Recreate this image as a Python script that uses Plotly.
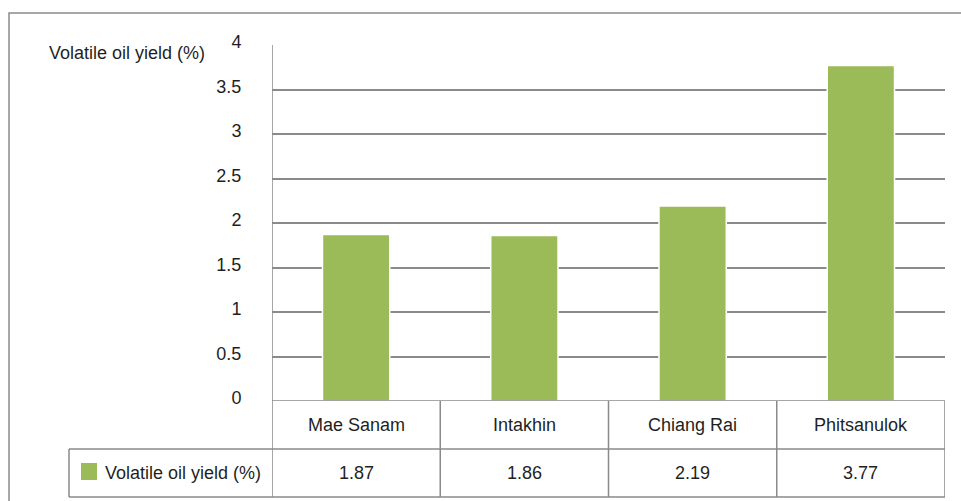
import plotly.graph_objects as go

# ---- data ----
categories = ["Mae Sanam", "Intakhin", "Chiang Rai", "Phitsanulok"]
values = [1.87, 1.86, 2.19, 3.77]
series_name = "Volatile oil yield (%)"
y_tick_vals = [0, 0.5, 1, 1.5, 2, 2.5, 3, 3.5, 4]
y_tick_text = ["0", "0.5", "1", "1.5", "2", "2.5", "3", "3.5", "4"]
axis_title = "Volatile oil yield (%)"

# ---- style ----
W, H = 961, 501
L, R, T, B = 272, 16, 45, 100
PW, PH = W - L - R, H - T - B
GREEN = "#9BBB59"
GRID = "#8a8a8a"
TXT = "#1f1f1f"
FONT = "Liberation Sans, Arial, sans-serif"
FS = 18


def px_x(px):
    return (px - L) / PW


def px_y(py):
    return (H - B - py) / PH


fig = go.Figure()
fig.add_trace(go.Bar(
    x=list(range(len(categories))), y=values, name=series_name,
    marker=dict(color=GREEN, line=dict(color="white", width=1.5)),
    showlegend=False, hoverinfo="skip",
))

n = len(categories)
row1_bot = px_y(449)
row2_bot = px_y(497)
row_mid1 = (0 + row1_bot) / 2
row_mid2 = (row1_bot + row2_bot) / 2

shapes = []
line = dict(color=GRID, width=1.5)
# outer chart border
shapes.append(dict(type="rect", xref="paper", yref="paper",
                   x0=px_x(9), x1=px_x(1000), y0=px_y(540), y1=px_y(13),
                   line=line, layer="below"))
# axis line at zero
shapes.append(dict(type="line", xref="paper", yref="y", x0=0, x1=1,
                   y0=0, y1=0, line=line))
# left plot/table line
shapes.append(dict(type="line", xref="x", yref="paper", x0=-0.5, x1=-0.5,
                   y0=1, y1=row2_bot, line=line))
# column separators and right edge of table
for i in range(1, n + 1):
    shapes.append(dict(type="line", xref="x", yref="paper", x0=i - 0.5, x1=i - 0.5,
                       y0=0, y1=row2_bot, line=line))
# row separators spanning legend cell + columns
for yy in (row1_bot, row2_bot):
    shapes.append(dict(type="line", xref="paper", yref="paper", x0=px_x(69), x1=1,
                       y0=yy, y1=yy, line=line))
# legend cell left edge
shapes.append(dict(type="line", xref="paper", yref="paper", x0=px_x(69), x1=px_x(69),
                   y0=row1_bot, y1=row2_bot, line=line))
# legend key
shapes.append(dict(type="rect", xref="paper", yref="paper",
                   x0=px_x(81), x1=px_x(97), y0=px_y(480), y1=px_y(463),
                   fillcolor=GREEN, line=dict(width=0)))

fnt = dict(size=FS, color=TXT, family=FONT)
annotations = []
for i, (c, v) in enumerate(zip(categories, values)):
    annotations.append(dict(x=i, y=row_mid1, xref="x", yref="paper", text=c,
                            xanchor="center", yanchor="middle",
                            showarrow=False, font=fnt))
    annotations.append(dict(x=i, y=row_mid2, xref="x", yref="paper", text=f"{v:.2f}",
                            xanchor="center", yanchor="middle",
                            showarrow=False, font=fnt))
annotations.append(dict(x=px_x(103), y=row_mid2, xref="paper", yref="paper",
                        text=series_name, xanchor="left", yanchor="middle",
                        showarrow=False, font=fnt))
annotations.append(dict(x=px_x(47), y=px_y(53), xref="paper", yref="paper",
                        text=axis_title, xanchor="left", yanchor="middle",
                        showarrow=False, font=fnt))

fig.update_layout(
    width=W, height=H,
    margin=dict(l=L, r=R, t=T, b=B),
    paper_bgcolor="white", plot_bgcolor="white",
    bargap=0.6,
    shapes=shapes, annotations=annotations,
    font=dict(family=FONT, size=FS, color=TXT),
    xaxis=dict(range=[-0.5, n - 0.5], showticklabels=False, showgrid=False,
               zeroline=False, showline=False, ticks=""),
    yaxis=dict(range=[0, 4], tickvals=y_tick_vals, ticktext=y_tick_text,
               showgrid=True, gridcolor=GRID, gridwidth=1.5, zeroline=False,
               showline=False, ticks="outside", ticklen=26, ticklabelshift=-3,
               tickcolor="rgba(0,0,0,0)", tickfont=fnt),
)

fig.write_html("out.html")
